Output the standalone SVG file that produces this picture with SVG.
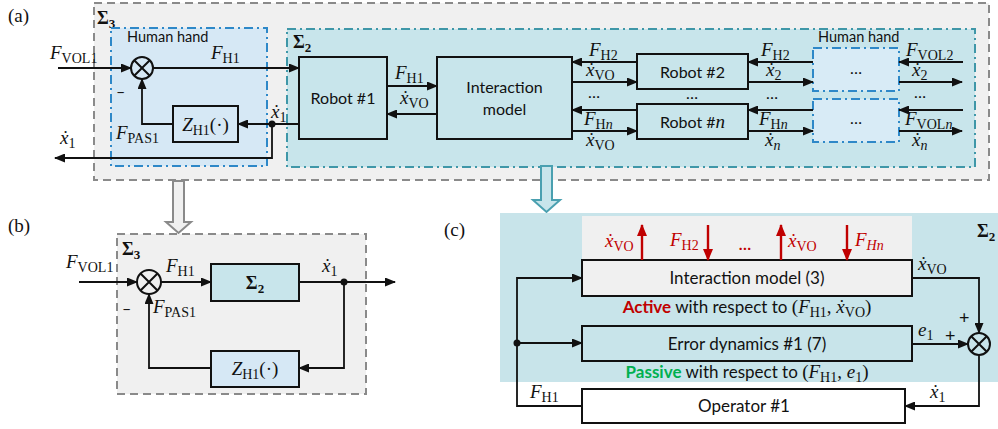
<svg xmlns="http://www.w3.org/2000/svg" width="998" height="429" viewBox="0 0 998 429">
  <style>
    .sans { font-family: Lato, "Liberation Sans", sans-serif; font-size: 16px; fill: #111; }
    .lbl  { font-family: "Liberation Serif", serif; font-size: 19px; fill: #111; }
    .m    { font-family: "Liberation Serif", serif; font-style: italic; font-size: 19px; fill: #111; }
    .sb   { font-style: normal; font-size: 14px; }
    .sig  { font-family: "Liberation Serif", serif; font-weight: bold; font-size: 18px; fill: #111; }
    .sigs { font-size: 13px; }
    .box  { stroke: #111; stroke-width: 2; }
    .warr { fill: none; stroke: #111; stroke-width: 1.8; marker-end: url(#ah); }
    .rarr { fill: none; stroke: #c00000; stroke-width: 2.4; marker-end: url(#ahr); }
    .grayzone { fill: #f0f0f0; stroke: #8a8a8a; stroke-width: 2; stroke-dasharray: 8 5; }
    .handzone { fill: #d6e8f5; stroke: #2e88c8; stroke-width: 2; stroke-dasharray: 9 4 2 4; }
    .s2zone { fill: #c8e5eb; stroke: #3f97a8; stroke-width: 2; stroke-dasharray: 9 4 2 4; }
    .teal { fill: #c8e5eb; }
    .lblue { fill: #d6e8f5; }
    .red { fill: #c00000; }
    .green { fill: #00b050; }
  </style>
  <defs>
    <marker id="ah" markerUnits="userSpaceOnUse" markerWidth="11" markerHeight="9" refX="10" refY="4.5" orient="auto">
      <path d="M0,0 L11,4.5 L0,9 z" fill="#111"/>
    </marker>
    <marker id="ahr" markerUnits="userSpaceOnUse" markerWidth="12" markerHeight="10" refX="11" refY="5" orient="auto">
      <path d="M0,0 L12,5 L0,10 z" fill="#c00000"/>
    </marker>
  </defs>

  <!-- ===================== panel (a) ===================== -->
  <text class="lbl" x="8" y="22">(a)</text>

  <g id="a-sigma3">
    <rect class="grayzone" x="94" y="3" width="895" height="177"/>
    <text class="sig" x="97" y="24">Σ<tspan class="sigs" dy="4">3</tspan></text>
  </g>

  <g id="a-hand1">
    <rect class="handzone" x="111" y="28" width="156" height="138"/>
    <text class="sans" x="127" y="42" style="font-size:14.5px">Human hand</text>
  </g>

  <g id="a-sigma2">
    <rect class="s2zone" x="287" y="29" width="688" height="138"/>
    <text class="sig" x="293" y="48">Σ<tspan class="sigs" dy="4">2</tspan></text>
  </g>

  <g id="a-sum">
    <circle cx="142" cy="68" r="11" fill="none" stroke="#111" stroke-width="2"/>
    <path d="M134.2,60.2 L149.8,75.8 M149.8,60.2 L134.2,75.8" stroke="#111" stroke-width="2"/>
  </g>

  <g id="a-zh1">
    <rect class="box lblue" x="173" y="106" width="65" height="36"/>
    <text class="m" x="205.5" y="131" text-anchor="middle">Z<tspan class="sb" dy="4">H1</tspan><tspan dy="-4" style="font-style:normal">(·)</tspan></text>
  </g>

  <g id="a-robot1">
    <rect class="box teal" x="299" y="57" width="88" height="82"/>
    <text class="sans" x="343" y="104" text-anchor="middle">Robot #1</text>
  </g>

  <g id="a-interaction">
    <rect class="box teal" x="437" y="57" width="135" height="82"/>
    <text class="sans" x="504.5" y="93" text-anchor="middle">Interaction</text>
    <text class="sans" x="504.5" y="115" text-anchor="middle">model</text>
  </g>

  <g id="a-robot2">
    <rect class="box teal" x="637" y="54" width="111" height="35"/>
    <text class="sans" x="692.5" y="78" text-anchor="middle">Robot #2</text>
  </g>

  <g id="a-robotn">
    <rect class="box teal" x="637" y="104" width="111" height="35"/>
    <text class="sans" x="692.5" y="128" text-anchor="middle">Robot #<tspan style="font-family:'Liberation Serif',serif;font-style:italic;font-size:19px">n</tspan></text>
  </g>

  <g id="a-hand2">
    <rect class="handzone" x="813" y="48" width="86" height="43" style="fill:#d8ebf6"/>
    <text class="sans" x="856" y="74" text-anchor="middle">…</text>
  </g>
  <g id="a-handn">
    <rect class="handzone" x="813" y="99" width="86" height="43" style="fill:#d8ebf6"/>
    <text class="sans" x="856" y="124" text-anchor="middle">…</text>
  </g>
  <text class="sans" x="818" y="42" style="font-size:14.5px">Human hand</text>

  <g id="a-connectors">
    <path class="warr" d="M58,68 H131"/>
    <path class="warr" d="M153,68 H299"/>
    <path class="warr" d="M299,124 H238"/>
    <path class="warr" d="M173,124 H142 V79"/>
    <path class="warr" d="M272,124 V158 H55"/>
    <circle cx="272" cy="124" r="3.5" fill="#111"/>
    <path class="warr" d="M387,86 H437"/>
    <path class="warr" d="M437,114 H387"/>
    <path class="warr" d="M637,62 H572"/>
    <path class="warr" d="M572,82 H637"/>
    <path class="warr" d="M637,110 H572"/>
    <path class="warr" d="M572,131 H637"/>
    <path class="warr" d="M813,62 H748"/>
    <path class="warr" d="M748,82 H813"/>
    <path class="warr" d="M813,110 H748"/>
    <path class="warr" d="M748,131 H813"/>
    <path class="warr" d="M963,62 H899"/>
    <path class="warr" d="M899,82 H962"/>
    <path class="warr" d="M963,110 H899"/>
    <path class="warr" d="M899,131 H962"/>
  </g>

  <g id="a-labels">
    <text class="m" x="50" y="59">F<tspan class="sb" dy="4">VOL1</tspan></text>
    <text class="m" x="211" y="59">F<tspan class="sb" dy="4">H1</tspan></text>
    <text class="sans" x="116" y="97">–</text>
    <text class="m" x="116" y="139">F<tspan class="sb" dy="4">PAS1</tspan></text>
    <text class="m" x="271" y="118">ẋ<tspan class="sb" dy="4">1</tspan></text>
    <text class="m" x="60" y="144">ẋ<tspan class="sb" dy="4">1</tspan></text>
    <text class="m" x="395" y="79">F<tspan class="sb" dy="4">H1</tspan></text>
    <text class="m" x="400" y="104">ẋ<tspan class="sb" dy="4">VO</tspan></text>
    <text class="m" x="589" y="56">F<tspan class="sb" dy="4">H2</tspan></text>
    <text class="m" x="586" y="76">ẋ<tspan class="sb" dy="4">VO</tspan></text>
    <text class="sans" x="594" y="98" text-anchor="middle">…</text>
    <text class="m" x="584" y="125">F<tspan class="sb" dy="4">H<tspan style="font-style:italic">n</tspan></tspan></text>
    <text class="m" x="586" y="146">ẋ<tspan class="sb" dy="4">VO</tspan></text>
    <text class="sans" x="692" y="99" text-anchor="middle">…</text>
    <text class="m" x="761" y="56">F<tspan class="sb" dy="4">H2</tspan></text>
    <text class="m" x="766" y="76">ẋ<tspan class="sb" dy="4">2</tspan></text>
    <text class="sans" x="772" y="99" text-anchor="middle">…</text>
    <text class="m" x="759" y="125">F<tspan class="sb" dy="4">H<tspan style="font-style:italic">n</tspan></tspan></text>
    <text class="m" x="765" y="146">ẋ<tspan class="sb" dy="4" style="font-style:italic">n</tspan></text>
    <text class="m" x="906" y="56">F<tspan class="sb" dy="4">VOL2</tspan></text>
    <text class="m" x="912" y="76">ẋ<tspan class="sb" dy="4">2</tspan></text>
    <text class="sans" x="920" y="98" text-anchor="middle">…</text>
    <text class="m" x="905" y="125">F<tspan class="sb" dy="4">VOL<tspan style="font-style:italic">n</tspan></tspan></text>
    <text class="m" x="912" y="146">ẋ<tspan class="sb" dy="4" style="font-style:italic">n</tspan></text>
  </g>

  <!-- hollow arrows leading to panels (b) and (c) -->
  <path id="to-b" d="M173,181 H184 V222 H191 L178.5,233 L166,222 H173 Z" fill="#f0f0f0" stroke="#8a8a8a" stroke-width="2"/>
  <path id="to-c" d="M541,166 H552 V200 H560 L546.5,212 L533,200 H541 Z" fill="#c8e5eb" stroke="#4aa0b0" stroke-width="2"/>

  <!-- ===================== panel (b) ===================== -->
  <text class="lbl" x="8" y="232">(b)</text>

  <g id="b-sigma3">
    <rect class="grayzone" x="117" y="234" width="249" height="160"/>
    <text class="sig" x="122" y="255">Σ<tspan class="sigs" dy="4">3</tspan></text>
  </g>

  <g id="b-sum">
    <circle cx="149" cy="282" r="12" fill="none" stroke="#111" stroke-width="2"/>
    <path d="M140.5,273.5 L157.5,290.5 M157.5,273.5 L140.5,290.5" stroke="#111" stroke-width="2"/>
  </g>

  <g id="b-sigma2">
    <rect class="box teal" x="211" y="264" width="88" height="37"/>
    <text class="sig" x="255" y="289" text-anchor="middle">Σ<tspan class="sigs" dy="4">2</tspan></text>
  </g>

  <g id="b-zh1">
    <rect class="box lblue" x="211" y="351" width="88" height="36"/>
    <text class="m" x="255" y="375" text-anchor="middle">Z<tspan class="sb" dy="4">H1</tspan><tspan dy="-4" style="font-style:normal">(·)</tspan></text>
  </g>

  <g id="b-connectors">
    <path class="warr" d="M79,282 H137"/>
    <path class="warr" d="M161,282 H211"/>
    <path class="warr" d="M299,282 H395"/>
    <circle cx="344" cy="282" r="3.5" fill="#111"/>
    <path class="warr" d="M344,282 V368 H299"/>
    <path class="warr" d="M211,368 H149 V294"/>
  </g>

  <g id="b-labels">
    <text class="m" x="66" y="268">F<tspan class="sb" dy="4">VOL1</tspan></text>
    <text class="m" x="166" y="272">F<tspan class="sb" dy="4">H1</tspan></text>
    <text class="m" x="322" y="272">ẋ<tspan class="sb" dy="4">1</tspan></text>
    <text class="sans" x="122" y="314">–</text>
    <text class="m" x="153" y="313">F<tspan class="sb" dy="4">PAS1</tspan></text>
  </g>

  <!-- ===================== panel (c) ===================== -->
  <text class="lbl" x="444" y="236">(c)</text>

  <g id="c-sigma2">
    <rect x="500" y="213" width="498" height="169" fill="#c8e4ea"/>
    <rect x="582" y="216" width="330" height="44" fill="#f0f0f0"/>
    <text class="sig" x="977" y="237">Σ<tspan class="sigs" dy="4">2</tspan></text>
  </g>

  <g id="c-interaction">
    <rect class="box" x="582" y="260" width="330" height="36" fill="#f0f0f0"/>
    <text class="sans" x="747" y="284" text-anchor="middle" style="font-size:17px">Interaction model (3)</text>
  </g>

  <g id="c-error">
    <rect class="box" x="582" y="326" width="330" height="35" fill="#c8e4ea"/>
    <text class="sans" x="747" y="350" text-anchor="middle" style="font-size:17px">Error dynamics #1 (7)</text>
  </g>

  <g id="c-operator">
    <rect class="box" x="582" y="389" width="323" height="34" fill="#ffffff"/>
    <text class="sans" x="744" y="412" text-anchor="middle" style="font-size:17px">Operator #1</text>
  </g>

  <g id="c-sum">
    <circle cx="979" cy="344" r="11" fill="none" stroke="#111" stroke-width="2"/>
    <path d="M971.2,336.2 L986.8,351.8 M986.8,336.2 L971.2,351.8" stroke="#111" stroke-width="2"/>
  </g>

  <g id="c-connectors">
    <path class="warr" d="M582,406 H517 V278 H582"/>
    <circle cx="517" cy="343" r="3.5" fill="#111"/>
    <path class="warr" d="M517,343 H582"/>
    <path class="warr" d="M912,278 H979 V333"/>
    <path class="warr" d="M912,344 H968"/>
    <path class="warr" d="M979,355 V406 H905"/>
    <path class="rarr" d="M642,260 V225"/>
    <path class="rarr" d="M708,225 V260"/>
    <path class="rarr" d="M781,260 V225"/>
    <path class="rarr" d="M847,225 V260"/>
  </g>

  <g id="c-labels">
    <text class="m red" x="605" y="247">ẋ<tspan class="sb" dy="4">VO</tspan></text>
    <text class="m red" x="670" y="246">F<tspan class="sb" dy="4">H2</tspan></text>
    <text class="sans red" x="745" y="250" text-anchor="middle" style="font-weight:bold">…</text>
    <text class="m red" x="788" y="247">ẋ<tspan class="sb" dy="4">VO</tspan></text>
    <text class="m red" x="855" y="246">F<tspan class="sb" dy="4" style="font-style:italic">Hn</tspan></text>
    <text class="sans" x="747" y="313" text-anchor="middle" style="font-size:17px"><tspan class="red" style="font-weight:bold">Active</tspan> with respect to <tspan class="lbl">(</tspan><tspan class="m">F</tspan><tspan class="lbl sb" dy="4">H1</tspan><tspan class="lbl" dy="-4">, </tspan><tspan class="m">ẋ</tspan><tspan class="lbl sb" dy="4">VO</tspan><tspan class="lbl" dy="-4">)</tspan></text>
    <text class="sans" x="747" y="378" text-anchor="middle" style="font-size:17px"><tspan class="green" style="font-weight:bold">Passive</tspan> with respect to <tspan class="lbl">(</tspan><tspan class="m">F</tspan><tspan class="lbl sb" dy="4">H1</tspan><tspan class="lbl" dy="-4">, </tspan><tspan class="m">e</tspan><tspan class="lbl sb" dy="4">1</tspan><tspan class="lbl" dy="-4">)</tspan></text>
    <text class="m" x="530" y="398">F<tspan class="sb" dy="4">H1</tspan></text>
    <text class="m" x="918" y="270">ẋ<tspan class="sb" dy="4">VO</tspan></text>
    <text class="m" x="918" y="336">e<tspan class="sb" dy="4">1</tspan></text>
    <text class="sans" x="945" y="342" style="font-size:18px">+</text>
    <text class="sans" x="959" y="324" style="font-size:18px">+</text>
    <text class="m" x="930" y="398">ẋ<tspan class="sb" dy="4">1</tspan></text>
  </g>
</svg>
